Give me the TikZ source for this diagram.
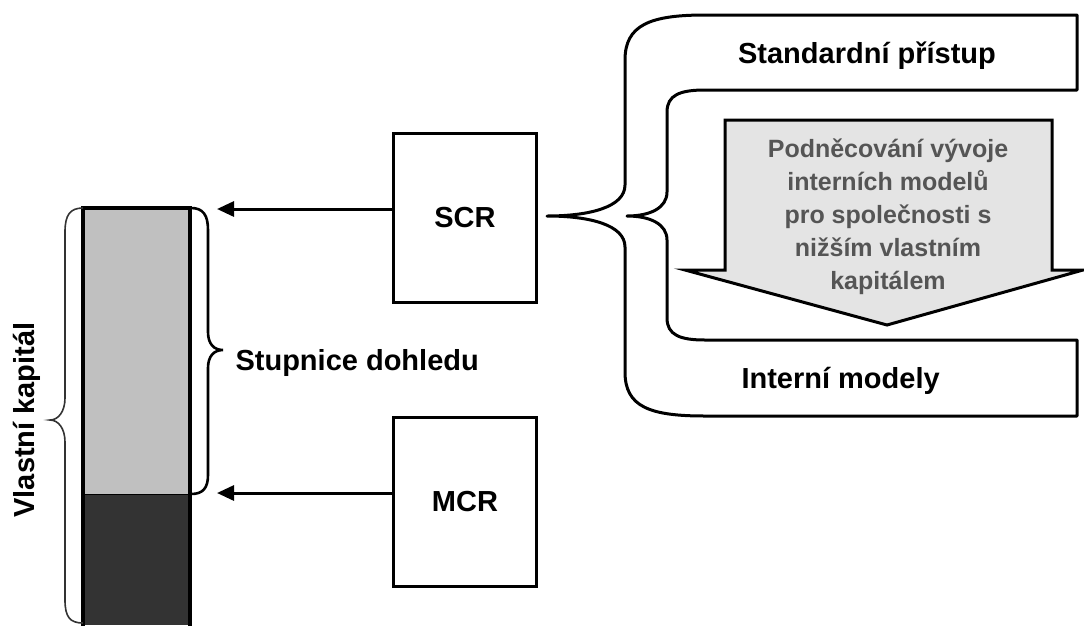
\documentclass[tikz,border=0pt]{standalone}
\usepackage{fontspec}
\setmainfont{Liberation Sans}
\usetikzlibrary{arrows.meta}
\definecolor{barlight}{HTML}{C0C0C0}
\definecolor{bardark}{HTML}{333333}
\definecolor{arrowfill}{HTML}{E4E4E4}
\definecolor{arrowtext}{HTML}{555555}
\tikzset{
  big/.style={font=\fontsize{29}{33}\selectfont\bfseries},
  boxnode/.style={draw, line width=3pt, minimum width=143pt, minimum height=169pt, inner sep=0pt, big},
  pointer/.style={line width=3pt, -{Triangle[length=17pt,width=15pt]}},
  bracethick/.style={line width=3pt, line join=round},
  bracethin/.style={line width=1.6pt, color=black!80},
}
\begin{document}
\begin{tikzpicture}[x=1pt,y=-1pt]
\useasboundingbox (0,0) rectangle (1084,625);
% capital bar
\fill[barlight] (83,208) rectangle (190,494);
\fill[bardark] (83,494) rectangle (190,625);
\draw[line width=1pt] (83,494) -- (190,494);
\draw[line width=3.5pt] (83,626) -- (83,208) -- (190,208) -- (190,626);
% left brace
\draw[bracethin] (83,208) .. controls (70,208) and (65,215) .. (65,232) -- (65,398)
  .. controls (65,412) and (58,420) .. (50,420)
  .. controls (58,420) and (65,428) .. (65,442) -- (65,600)
  .. controls (65,617) and (70,623) .. (83,623);
\node[big, rotate=90, anchor=base] (vk) at (34,420) {Vlastní kapitál};
% supervision brace
\draw[line width=2.6pt] (191,208) .. controls (203,208) and (208,215) .. (208,230) -- (208,332)
  .. controls (208,344) and (214,350) .. (223,350)
  .. controls (214,350) and (208,356) .. (208,368) -- (208,475)
  .. controls (208,488) and (203,494) .. (191,494);
\node[big, anchor=base west] (sd) at (232,370) {Stupnice dohledu};
% boxes
\node[boxnode] (scr) at (465,217.5) {SCR};
\node[boxnode] (mcr) at (465,501.5) {MCR};
\coordinate (scrin) at (217,209);
\coordinate (mcrin) at (217,493);
\draw[pointer] (scr.west |- scrin) -- (scrin);
\draw[pointer] (mcr.west |- mcrin) -- (mcrin);
% outer brace + boxes
\draw[bracethick] (1077,15) -- (705,15) .. controls (650,15) and (625,25) .. (625,60) -- (625,185)
  .. controls (625,207) and (590,216) .. (547,216)
  .. controls (590,216) and (625,225) .. (625,247) -- (625,372)
  .. controls (625,407) and (650,416) .. (705,416) -- (1077,416) -- (1077,340)
  -- (705,340) .. controls (680,340) and (667,335) .. (667,318) -- (667,240)
  .. controls (667,224) and (650,216) .. (627,216)
  .. controls (650,216) and (667,208) .. (667,192) -- (667,112)
  .. controls (667,95) and (680,90) .. (705,90) -- (1077,90) -- cycle;
\node[big, anchor=base] (std) at (867,63) {Standardní přístup};
\node[big, anchor=base west] (im) at (738,388) {Interní modely};
% down arrow
\draw[line width=3pt, fill=arrowfill, line join=miter] (725,120) -- (1052,120) -- (1052,270) -- (1083,270)
  -- (887,325) -- (685,270) -- (725,270) -- cycle;
\node[align=center, text=arrowtext, font=\fontsize{25}{33}\selectfont\bfseries] (enc) at (888,217)
  {Podněcování vývoje\\interních modelů\\pro společnosti s\\nižším vlastním\\kapitálem};
\end{tikzpicture}
\end{document}
